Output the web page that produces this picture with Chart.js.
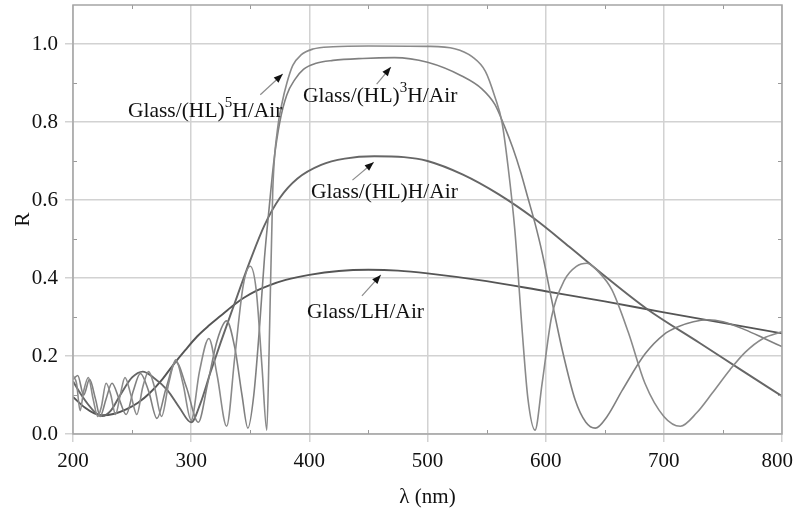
<!DOCTYPE html>
<html>
<head>
<meta charset="utf-8">
<script src="https://cdn.jsdelivr.net/npm/chart.js@4.4.1/dist/chart.umd.min.js"></script>
<style>
  html, body { margin: 0; padding: 0; background: #fff; }
  #wrap { width: 795px; height: 511px; position: relative; }
</style>
</head>
<body>
<div id="wrap"><canvas id="chart"></canvas></div>
<script>
// wavelength (nm), reflectance pairs
const lhPoints = [
  [200,0.095],[210,0.068],[218,0.053],[225,0.048],[235,0.052],[245,0.063],[255,0.08],[265,0.105],
  [275,0.138],[285,0.178],[295,0.215],[305,0.25],[315,0.278],[325,0.303],[335,0.328],[345,0.35],
  [355,0.367],[365,0.38],[380,0.395],[400,0.408],[425,0.418],[450,0.421],[475,0.419],[500,0.412],
  [550,0.392],[600,0.366],[650,0.34],[700,0.312],[750,0.285],[800,0.258]
];
const hlhPoints = [
  [200,0.135],[206,0.105],[213,0.075],[220,0.052],[225,0.046],[232,0.06],[240,0.1],[250,0.145],
  [259,0.16],[268,0.145],[280,0.112],[290,0.068],[300,0.03],[308,0.08],[316,0.155],[325,0.235],
  [335,0.32],[350,0.445],[362,0.535],[375,0.605],[390,0.655],[410,0.69],[430,0.706],[455,0.712],
  [480,0.71],[500,0.7],[530,0.665],[560,0.615],[590,0.553],[620,0.48],[650,0.405],[686,0.32],
  [730,0.234],[765,0.165],[800,0.097]
];
const hl3Points = [
  [200,0.14],[204,0.15],[209,0.1],[214,0.14],[219,0.09],[223,0.045],[228,0.09],[233,0.13],
  [239,0.09],[245,0.05],[251,0.11],[257,0.155],[264,0.11],[271,0.04],[279,0.12],[287,0.185],
  [296,0.12],[306,0.03],[314,0.13],[322,0.24],[330,0.29],[337,0.22],[343,0.1],[348,0.015],
  [353,0.1],[358,0.28],[362,0.45],[366,0.58],[370,0.7],[375,0.8],[381,0.87],[388,0.91],
  [395,0.935],[405,0.95],[420,0.958],[445,0.963],[472,0.965],[500,0.953],[529,0.918],[546,0.885],
  [557,0.845],[565,0.79],[572,0.735],[579,0.67],[585,0.605],[591,0.54],[597,0.465],[605,0.345],
  [614,0.216],[625,0.087],[634,0.03],[642,0.015],[652,0.045],[665,0.113],[684,0.205],[700,0.255],
  [712,0.275],[725,0.288],[737,0.293],[750,0.288],[769,0.267],[785,0.245],[800,0.224]
];
const hl5Points = [
  [200,0.15],[203,0.13],[206,0.06],[209,0.11],[213,0.145],[217,0.09],[221,0.045],[224,0.07],
  [228,0.13],[232,0.1],[236,0.05],[240,0.1],[244,0.145],[249,0.1],[254,0.05],[259,0.12],
  [264,0.16],[269,0.12],[275,0.045],[281,0.13],[287,0.19],[293,0.13],[300,0.035],[307,0.16],
  [315,0.245],[322,0.15],[330,0.02],[337,0.2],[344,0.38],[350,0.43],[355,0.37],[360,0.17],
  [364,0.01],[366,0.22],[369,0.62],[373,0.78],[377,0.85],[381,0.9],[386,0.945],[393,0.972],
  [403,0.987],[420,0.993],[450,0.995],[500,0.994],[523,0.988],[538,0.967],[549,0.93],[557,0.865],
  [563,0.8],[568,0.69],[574,0.52],[580,0.27],[585,0.09],[591,0.01],[597,0.13],[605,0.3],
  [616,0.395],[626,0.43],[635,0.438],[645,0.415],[656,0.37],[670,0.26],[684,0.13],[700,0.045],
  [714,0.02],[728,0.055],[741,0.105],[756,0.165],[769,0.21],[784,0.245],[800,0.262]
];

const xTicks = [200, 300, 400, 500, 600, 700, 800];
const yTicks = [0, 0.2, 0.4, 0.6, 0.8, 1.0];
const xMinor = [250, 350, 450, 550, 650, 750];
const yMinor = [0.1, 0.3, 0.5, 0.7, 0.9];

// curve labels: text anchor (left, baseline) and arrow, in data units
const notes = [
  { x: 246.5, y: 0.813, pre: 'Glass/(HL)', sup: '5', post: 'H/Air', from: [358.5, 0.87], to: [377.5, 0.923] },
  { x: 394.6, y: 0.851, pre: 'Glass/(HL)', sup: '3', post: 'H/Air', from: [457, 0.897], to: [469, 0.941] },
  { x: 401.4, y: 0.605, pre: 'Glass/(HL)H/Air', sup: '', post: '', from: [436.5, 0.651], to: [454.5, 0.697] },
  { x: 398.0, y: 0.297, pre: 'Glass/LH/Air', sup: '', post: '', from: [444.5, 0.354], to: [460.5, 0.408] }
];

const FONT = '"Liberation Serif", "DejaVu Serif", serif';
const toXY = pts => pts.map(p => ({ x: p[0], y: p[1] }));

const framePlugin = {
  id: 'frame',
  afterDatasetsDraw(chart) {
    const { ctx, chartArea: a, scales: { x, y } } = chart;
    ctx.save();
    // minor ticks on all four sides, inside
    ctx.strokeStyle = '#999';
    ctx.lineWidth = 1;
    ctx.beginPath();
    xMinor.forEach(v => {
      const px = Math.round(x.getPixelForValue(v)) + 0.5;
      ctx.moveTo(px, a.bottom); ctx.lineTo(px, a.bottom - 4);
      ctx.moveTo(px, a.top); ctx.lineTo(px, a.top + 4);
    });
    yMinor.forEach(v => {
      const py = Math.round(y.getPixelForValue(v)) + 0.5;
      ctx.moveTo(a.left, py); ctx.lineTo(a.left + 4, py);
      ctx.moveTo(a.right, py); ctx.lineTo(a.right - 4, py);
    });
    ctx.stroke();
    ctx.strokeStyle = '#a5a5a5';
    ctx.lineWidth = 1.5;
    ctx.strokeRect(a.left, a.top, a.right - a.left, a.bottom - a.top);

    // last x tick label, kept inside the canvas like the original
    ctx.fillStyle = '#111';
    ctx.font = '21px ' + FONT;
    ctx.textAlign = 'right';
    ctx.textBaseline = 'middle';
    ctx.fillText(String(xTicks[xTicks.length - 1]), chart.width - 2, a.bottom + 27);

    // labels and arrows
    notes.forEach(n => {
      const fx = x.getPixelForValue(n.from[0]), fy = y.getPixelForValue(n.from[1]);
      const tx = x.getPixelForValue(n.to[0]), ty = y.getPixelForValue(n.to[1]);
      ctx.strokeStyle = '#8c8c8c';
      ctx.lineWidth = 1.2;
      ctx.beginPath(); ctx.moveTo(fx, fy); ctx.lineTo(tx, ty); ctx.stroke();
      const ang = Math.atan2(ty - fy, tx - fx);
      ctx.fillStyle = '#111';
      ctx.beginPath();
      ctx.moveTo(tx, ty);
      ctx.lineTo(tx - 9 * Math.cos(ang) + 3.5 * Math.sin(ang), ty - 9 * Math.sin(ang) - 3.5 * Math.cos(ang));
      ctx.lineTo(tx - 9 * Math.cos(ang) - 3.5 * Math.sin(ang), ty - 9 * Math.sin(ang) + 3.5 * Math.cos(ang));
      ctx.closePath(); ctx.fill();

      let px = x.getPixelForValue(n.x);
      const py = y.getPixelForValue(n.y);
      ctx.textBaseline = 'alphabetic';
      ctx.textAlign = 'left';
      ctx.font = '21.5px ' + FONT;
      ctx.fillText(n.pre, px, py);
      px += ctx.measureText(n.pre).width;
      if (n.sup) {
        ctx.font = '15px ' + FONT;
        ctx.fillText(n.sup, px, py - 10);
        px += ctx.measureText(n.sup).width;
        ctx.font = '21.5px ' + FONT;
        ctx.fillText(n.post, px, py);
      }
    });
    ctx.restore();
  }
};

function series(pts, color, width) {
  return {
    data: toXY(pts),
    borderColor: color,
    borderWidth: width,
    pointRadius: 0,
    fill: false,
    cubicInterpolationMode: 'monotone'
  };
}

new Chart(document.getElementById('chart'), {
  type: 'line',
  data: {
    datasets: [
      series(hl5Points, '#8a8a8a', 1.6),
      series(hl3Points, '#808080', 1.6),
      series(hlhPoints, '#666', 1.9),
      series(lhPoints, '#555', 1.9)
    ]
  },
  options: {
    responsive: true,
    maintainAspectRatio: false,
    animation: false,
    layout: { padding: { top: 5, right: 13, left: 0, bottom: 0 } },
    plugins: { legend: { display: false }, tooltip: { enabled: false } },
    scales: {
      x: {
        type: 'linear',
        min: 200,
        max: 800,
        afterBuildTicks: s => { s.ticks = xTicks.map(v => ({ value: v })); },
        afterFit: s => { s.height = 77; s.paddingLeft = 0; s.paddingRight = 0; },
        ticks: {
          font: { family: FONT, size: 21 }, color: '#111', padding: 7, maxRotation: 0,
          callback: (v, i, arr) => (i === arr.length - 1 ? '' : String(v))
        },
        grid: { color: '#d2d2d2', lineWidth: 1.5, tickLength: 8 },
        border: { display: false },
        title: { display: true, text: 'λ (nm)', font: { family: FONT, size: 21 }, color: '#111', padding: { top: 0, bottom: 1 } }
      },
      y: {
        min: 0,
        max: 1.1,
        afterBuildTicks: s => { s.ticks = yTicks.map(v => ({ value: v })); },
        afterFit: s => { s.width = 73; s.paddingTop = 0; s.paddingBottom = 0; },
        ticks: { font: { family: FONT, size: 21 }, color: '#111', padding: 7, callback: v => v.toFixed(1) },
        grid: { color: '#d2d2d2', lineWidth: 1.5, tickLength: 8 },
        border: { display: false },
        title: { display: true, text: 'R', font: { family: FONT, size: 21 }, color: '#111', padding: { top: 11, bottom: 0 } }
      }
    }
  },
  plugins: [framePlugin]
});
</script>
</body>
</html>
